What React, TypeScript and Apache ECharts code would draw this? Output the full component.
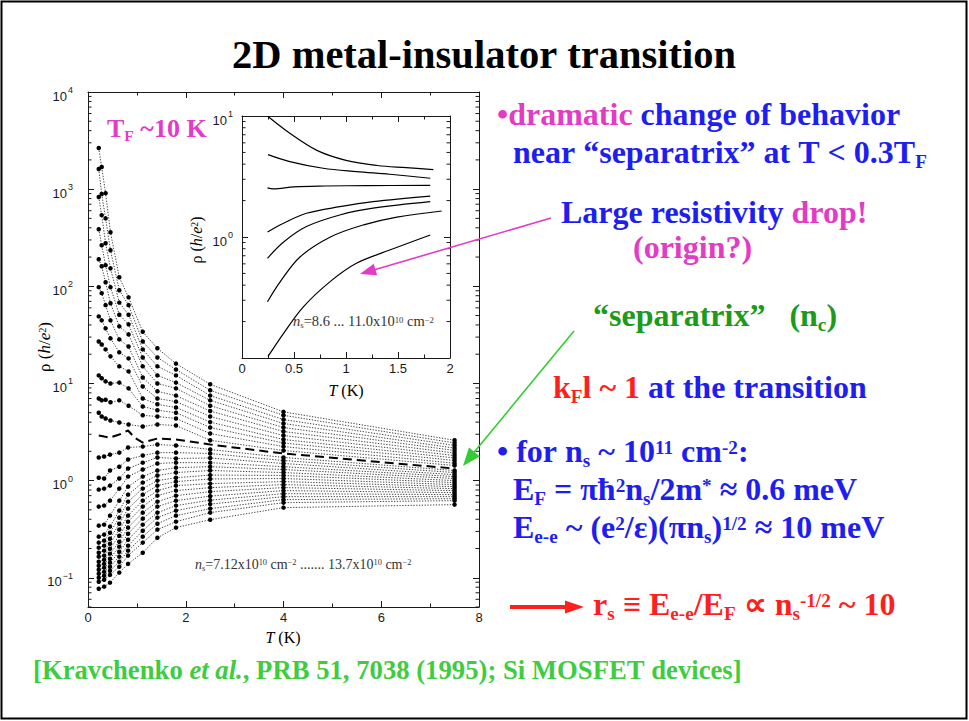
import React, { useEffect, useRef } from 'react';
import * as echarts from 'echarts';

// ---------- data: main panel, rho (h/e^2) versus T (K) ----------

// Temperatures at which the insulating-side curves were sampled
const TEMPS_INS = [0.22, 0.28, 0.36, 0.46, 0.64, 0.83, 1.12, 1.42, 1.8, 2.5, 4, 7.5];
// Insulating side (above the separatrix), top to bottom
const INS_1 = [2650, 1690, 910, 360, 124, 77, 34, 23, 16, 9.8, 5.1, 2.6];
const INS_2 = [1610, 890, 500, 235, 91, 64, 27, 18.5, 13.9, 8.5, 4.7, 2.44];
const INS_3 = [830, 540, 277, 153, 68, 51, 22.4, 15, 12.1, 7.5, 4.25, 2.3];
const INS_4 = [387, 265, 165, 98, 51, 40.6, 18.5, 12.1, 10.2, 6.7, 3.87, 2.16];
const INS_5 = [190, 161, 110, 67, 38.7, 32, 15, 10, 8.9, 5.9, 3.52, 2.04];
const INS_6 = [98, 85, 64, 44.6, 28.4, 24, 11.5, 8.3, 7.5, 5.2, 3.2, 1.92];
const INS_7 = [49, 44.6, 36.9, 29.1, 20.9, 18.1, 9.3, 7.0, 6.5, 4.57, 2.91, 1.81];
const INS_8 = [27, 25.2, 22.4, 19, 15, 13.3, 7.0, 6.1, 5.66, 4.0, 2.65, 1.71];
const INS_9 = [12.1, 11.3, 10.5, 10, 10.2, 8.9, 5.8, 5.3, 5.0, 3.52, 2.44, 1.61];
const INS_10 = [7.0, 6.7, 6.8, 6.4, 6.7, 5.9, 4.7, 4.57, 4.36, 3.05, 2.24, 1.51];
const INS_11 = [5.0, 4.57, 4.36, 4.15, 3.96, 3.78, 3.6, 3.78, 3.69, 2.6, 2.04, 1.43];

// Separatrix (dashed)
const TEMPS_SEP = [0.22, 0.33, 0.45, 0.64, 0.82, 0.95, 1.12, 1.42, 1.8, 2.5, 4, 7.5];
const SEPARATRIX = [2.91, 2.84, 2.77, 2.98, 3.28, 2.77, 2.46, 2.71, 2.65, 2.35, 1.9, 1.33];

// Metallic side (below the separatrix), top to bottom
const TEMPS_MET = [0.22, 0.33, 0.45, 0.64, 0.82, 1.12, 1.42, 1.8, 2.5, 4, 7.5];
const MET_1 = [1.73, 1.77, 1.85, 1.94, 2.19, 2.24, 2.35, 2.3, 2.09, 1.73, 1.27];
const MET_2 = [1.07, 1.05, 1.27, 1.39, 1.65, 1.81, 1.94, 1.94, 1.9, 1.61, 1.21];
const MET_3 = [0.808, 0.827, 0.888, 1.05, 1.33, 1.53, 1.73, 1.69, 1.71, 1.5, 1.15];
const MET_4 = [0.54, 0.553, 0.622, 0.827, 1.1, 1.3, 1.5, 1.53, 1.53, 1.39, 1.1];
const MET_5 = [0.344, 0.352, 0.436, 0.622, 0.867, 1.1, 1.27, 1.36, 1.39, 1.3, 1.05];
const MET_6 = [0.265, 0.278, 0.336, 0.491, 0.717, 0.954, 1.13, 1.21, 1.27, 1.21, 1.0];
const MET_7 = [0.23, 0.241, 0.291, 0.416, 0.607, 0.827, 1.0, 1.07, 1.14, 1.13, 0.954];
const MET_8 = [0.204, 0.214, 0.252, 0.36, 0.515, 0.717, 0.888, 0.977, 1.04, 1.05, 0.909];
const MET_9 = [0.181, 0.19, 0.224, 0.313, 0.436, 0.622, 0.789, 0.888, 0.931, 0.977, 0.867];
const MET_10 = [0.165, 0.169, 0.199, 0.271, 0.378, 0.54, 0.7, 0.789, 0.847, 0.909, 0.827];
const MET_11 = [0.146, 0.153, 0.177, 0.235, 0.328, 0.468, 0.607, 0.7, 0.77, 0.847, 0.789];
const MET_12 = [0.133, 0.139, 0.157, 0.209, 0.284, 0.406, 0.54, 0.622, 0.692, 0.789, 0.752];
const MET_13 = [0.121, 0.127, 0.143, 0.185, 0.246, 0.352, 0.468, 0.553, 0.629, 0.734, 0.717];
const MET_14 = [0.11, 0.115, 0.13, 0.165, 0.214, 0.305, 0.416, 0.491, 0.573, 0.684, 0.684];
const MET_15 = [0.1, 0.105, 0.118, 0.146, 0.19, 0.265, 0.36, 0.436, 0.515, 0.637, 0.652];
const MET_16 = [0.0909, 0.0954, 0.107, 0.13, 0.169, 0.23, 0.313, 0.378, 0.468, 0.593, 0.622];
const MET_17 = [0.077, 0.081, 0.089, 0.113, 0.139, 0.181, 0.258, 0.328, 0.396, 0.527, 0.566];

// ---------- data: inset, n_s = 8.6 ... 11.0 x10^10 cm^-2 ----------
const INSET_A_T = [0.25, 0.46, 0.72, 1.0, 1.3, 1.58, 1.84];
const INSET_A = [9.9, 7.2, 5.2, 4.3, 3.9, 3.74, 3.6];
const INSET_B_T = [0.25, 0.46, 0.78, 1.1, 1.42, 1.81];
const INSET_B = [4.8, 4.2, 3.7, 3.47, 3.3, 3.06];
const INSET_C_T = [0.245, 0.3, 0.5, 0.8, 1.2, 1.81];
const INSET_C = [2.55, 2.5, 2.6, 2.64, 2.66, 2.67];
const INSET_D_T = [0.245, 0.4, 0.62, 0.94, 1.26, 1.81];
const INSET_D = [1.1, 1.3, 1.57, 1.78, 1.96, 2.18];
const INSET_E_T = [0.245, 0.4, 0.62, 0.94, 1.26, 1.81];
const INSET_E = [0.667, 0.91, 1.22, 1.52, 1.73, 1.96];
const INSET_F_T = [0.245, 0.37, 0.56, 0.85, 1.17, 1.49, 1.92];
const INSET_F = [0.292, 0.43, 0.687, 1.0, 1.26, 1.46, 1.64];
const INSET_G_T = [0.25, 0.4, 0.59, 0.85, 1.1, 1.42, 1.81];
const INSET_G = [0.103, 0.16, 0.265, 0.43, 0.607, 0.78, 1.04];

// ---------- axis ticks ----------
const MAIN_DECADES = [0.01, 0.1, 1, 10, 100, 1000];
const INSET_DECADES = [0.1, 1];
const MINOR_STEPS = [2, 3, 4, 5, 6, 7, 8, 9];

// ---------- styling ----------
const SERIF = '"Liberation Serif", "Times New Roman", serif';
const SANS = '"Liberation Sans", Arial, sans-serif';
const COLORS: Record<string, string> = {
  bl: '#1e1ef0',
  pk: '#e23bc5',
  gn: '#1b9a1b',
  gc: '#40cc40',
  rd: '#ff1f1f',
  k: '#000000',
  t: '#333333',
};
const INK = '#1a1a1a';

// Rich-text styles with sub/superscripts; every token is top-aligned in the line
function richSet(size: number, weight: string = 'bold', family: string = SERIF) {
  const small = Math.round(size * 0.6 * 10) / 10;
  const supPad = Math.round(size * 0.086 * 10) / 10;
  const subPad = Math.round(size * 0.486 * 10) / 10;
  const rich: Record<string, any> = {};
  for (const key of Object.keys(COLORS)) {
    const base = { fill: COLORS[key], color: COLORS[key], fontFamily: family, fontWeight: weight, verticalAlign: 'top' };
    rich[key] = { ...base, fontSize: size, lineHeight: size, padding: [0, 0, 0, 0] };
    rich[key + 'I'] = { ...rich[key], fontStyle: 'italic' };
    rich[key + 'Sub'] = { ...base, fontSize: small, lineHeight: small, padding: [subPad, 0, 0, 0] };
    rich[key + 'Sup'] = { ...base, fontSize: small, lineHeight: small, padding: [supPad, 0, 0, 0] };
  }
  return rich;
}

// Text placed by its left/centre x and its baseline y
function label(x: number, baseline: number, text: string, size: number, weight = 'bold', align = 'left') {
  return {
    type: 'text',
    x,
    y: baseline - 0.84 * size,
    z: 100,
    silent: true,
    style: {
      text: text.replace(/ /g, '\u00a0'),
      rich: richSet(size, weight),
      align,
      verticalAlign: 'top',
    },
  };
}

function rotatedLabel(x: number, y: number, text: string, size: number) {
  return {
    type: 'text',
    x,
    y,
    rotation: Math.PI / 2,
    z: 100,
    silent: true,
    style: {
      text: text.replace(/ /g, '\u00a0'),
      rich: richSet(size, 'normal'),
      align: 'center',
      verticalAlign: 'middle',
    },
  };
}

const tickRich = {
  b: { fontSize: 13, fontFamily: SANS, color: INK, verticalAlign: 'top', lineHeight: 13, padding: [4, 0, 4, 0] },
  s: { fontSize: 9, fontFamily: SANS, color: INK, verticalAlign: 'top', lineHeight: 9, padding: [0, 0, 0, 1] },
};

function powerLabel(v: number) {
  const e = Math.log10(v);
  const r = Math.round(e);
  if (Math.abs(e - r) > 0.01) return '';
  return `{b|10}{s|${r < 0 ? '\u2212' + -r : r}}`;
}

function pairs(xs: number[], ys: number[]) {
  return xs.map((x, i) => [x, ys[i]]);
}

function minorTickSeries(xAxisIndex: number, yAxisIndex: number, decades: number[], lo: number, hi: number, xMin: number, xMax: number) {
  const values = decades.flatMap((d) => MINOR_STEPS.map((m) => m * d)).filter((v) => v >= lo && v < hi);
  return {
    type: 'custom',
    xAxisIndex,
    yAxisIndex,
    silent: true,
    z: 5,
    encode: { x: 0, y: 1 },
    data: values.map((v) => [xMin, v]),
    renderItem: (_params: any, api: any) => {
      const v = api.value(1);
      const a = api.coord([xMin, v]);
      const b = api.coord([xMax, v]);
      const st = { stroke: INK, lineWidth: 1 };
      return {
        type: 'group',
        children: [
          { type: 'line', shape: { x1: a[0], y1: a[1], x2: a[0] + 3.5, y2: a[1] }, style: st },
          { type: 'line', shape: { x1: b[0] - 3.5, y1: b[1], x2: b[0], y2: b[1] }, style: st },
        ],
      };
    },
  };
}

function xAxisDef(gridIndex: number, max: number, interval: number, position: string, showLabel: boolean) {
  return {
    gridIndex,
    type: 'value',
    min: 0,
    max,
    interval,
    position,
    axisLine: { show: true, onZero: false, lineStyle: { color: INK, width: 1 } },
    axisTick: { show: true, inside: true, length: 6, lineStyle: { color: INK } },
    minorTick: { show: true, splitNumber: 2, length: 3.5, lineStyle: { color: INK } },
    splitLine: { show: false },
    minorSplitLine: { show: false },
    axisLabel: {
      show: showLabel,
      fontSize: 13,
      fontFamily: SANS,
      color: INK,
      margin: 4,
      formatter: (v: number) => String(v),
    },
  };
}

function yAxisDef(gridIndex: number, min: number, max: number, position: string, showLabel: boolean, margin: number) {
  return {
    gridIndex,
    type: 'log',
    logBase: 10,
    min,
    max,
    position,
    axisLine: { show: true, onZero: false, lineStyle: { color: INK, width: 1 } },
    axisTick: { show: true, inside: true, length: 6, lineStyle: { color: INK } },
    splitLine: { show: false },
    axisLabel: {
      show: showLabel,
      margin,
      showMinLabel: false,
      formatter: powerLabel,
      rich: tickRich,
    },
  };
}

function buildOption() {
  const dottedStyle = { color: '#111', width: 0.8, type: [1.3, 1.5] };
  const insulating = [INS_1, INS_2, INS_3, INS_4, INS_5, INS_6, INS_7, INS_8, INS_9, INS_10, INS_11];
  const metallic = [MET_1, MET_2, MET_3, MET_4, MET_5, MET_6, MET_7, MET_8, MET_9, MET_10, MET_11, MET_12, MET_13, MET_14, MET_15, MET_16, MET_17];

  const mainCurve = (temps: number[], values: number[]) => ({
    type: 'line',
    xAxisIndex: 0,
    yAxisIndex: 0,
    silent: true,
    data: pairs(temps, values),
    symbol: 'circle',
    symbolSize: 4.5,
    itemStyle: { color: '#000' },
    lineStyle: dottedStyle,
    z: 3,
  });

  const insetCurve = (temps: number[], values: number[]) => ({
    type: 'line',
    xAxisIndex: 2,
    yAxisIndex: 2,
    silent: true,
    data: pairs(temps, values),
    symbol: 'none',
    smooth: 0.35,
    lineStyle: { color: '#000', width: 1.2 },
    z: 3,
  });

  const series: any[] = [
    ...insulating.map((v) => mainCurve(TEMPS_INS, v)),
    ...metallic.map((v) => mainCurve(TEMPS_MET, v)),
    {
      type: 'line',
      xAxisIndex: 0,
      yAxisIndex: 0,
      silent: true,
      data: pairs(TEMPS_SEP, SEPARATRIX),
      symbol: 'none',
      lineStyle: { color: '#000', width: 2, type: [9, 5] },
      z: 4,
    },
    insetCurve(INSET_A_T, INSET_A),
    insetCurve(INSET_B_T, INSET_B),
    insetCurve(INSET_C_T, INSET_C),
    insetCurve(INSET_D_T, INSET_D),
    insetCurve(INSET_E_T, INSET_E),
    insetCurve(INSET_F_T, INSET_F),
    insetCurve(INSET_G_T, INSET_G),
    minorTickSeries(0, 0, MAIN_DECADES, 0.05, 10000, 0, 8),
    minorTickSeries(2, 2, INSET_DECADES, 0.1, 10, 0, 2),
  ];

  const PINK = COLORS.pk;
  const GREEN_ARROW = '#33cc33';
  const RED = COLORS.rd;

  const graphics: any[] = [
    // slide frame
    { type: 'rect', z: 100, silent: true, shape: { x: 1.5, y: 1.5, width: 965, height: 717 }, style: { fill: 'none', stroke: '#000', lineWidth: 2 } },

    // title
    label(484, 68, '{k|2D metal-insulator transition}', 40.5, 'bold', 'center'),

    // inside the main panel
    label(107, 137, '{pk|T}{pkSub|F}{pk| ~10 K}', 26),
    label(195, 569, '{tI|n}{tSub|s}{t|=7.12x10}{tSup|10}{t| cm}{tSup|\u22122}{t| ....... 13.7x10}{tSup|10}{t| cm}{tSup|\u22122}', 14, 'normal'),
    label(293, 326, '{tI|n}{tSub|s}{t|=8.6 ... 11.0x10}{tSup|10}{t| cm}{tSup|\u22122}', 14.5, 'normal'),

    // axis titles
    label(283, 643, '{kI|T}{k| (K)}', 16, 'normal', 'center'),
    label(346, 396, '{kI|T}{k| (K)}', 16, 'normal', 'center'),
    rotatedLabel(44, 347, '{k|\u03c1 (}{kI|h}{k|/}{kI|e}{kSup|2}{k|)}', 17),
    rotatedLabel(196, 240, '{k|\u03c1 (}{kI|h}{k|/}{kI|e}{kSup|2}{k|)}', 16),

    // right-hand column
    label(497, 125, '{pk|\u2022dramatic }{bl|change of behavior}', 32),
    label(513, 163, '{bl|near \u201cseparatrix\u201d at T < 0.3T}{blSub|F}', 32),
    label(561, 223, '{bl|Large resistivity }{pk|drop!}', 32),
    label(633, 258, '{pk|(origin?)}', 32),
    label(593, 326, '{gn|\u201cseparatrix\u201d   }{gn|(n}{gnSub|c}{gn|)}', 32),
    label(553, 398, '{rd|k}{rdSub|F}{rd|l ~ 1 }{bl|at the transition}', 32),
    label(497, 462, '{bl|\u2022 for n}{blSub|s}{bl| ~ 10}{blSup|11}{bl| cm}{blSup|-2}{bl|:}', 32),
    label(513, 500, '{bl|E}{blSub|F}{bl| = \u03c0\u0127}{blSup|2}{bl|n}{blSub|s}{bl|/2m}{blSup|*}{bl| \u2248 0.6 meV}', 32),
    label(513, 538, '{bl|E}{blSub|e-e}{bl| ~ (e}{blSup|2}{bl|/\u03b5)(\u03c0n}{blSub|s}{bl|)}{blSup|1/2}{bl| \u2248 10 meV}', 32),
    label(593, 615, '{rd|r}{rdSub|s}{rd| \u2261 E}{rdSub|e-e}{rd|/E}{rdSub|F}{rd| \u221d n}{rdSub|s}{rdSup|-1/2}{rd| ~ 10}', 32),

    // citation
    label(33, 679, '{gc|[Kravchenko }{gcI|et al.}{gc|, PRB 51, 7038 (1995); Si MOSFET devices]}', 26.7),

    // arrows
    { type: 'line', z: 100, silent: true, shape: { x1: 551, y1: 218, x2: 372, y2: 270.5 }, style: { stroke: PINK, lineWidth: 1.6 } },
    { type: 'polygon', z: 100, silent: true, shape: { points: [[360, 274], [373.7, 263.7], [377.1, 275.3]] }, style: { fill: PINK } },
    { type: 'line', z: 100, silent: true, shape: { x1: 574, y1: 331, x2: 471, y2: 456 }, style: { stroke: GREEN_ARROW, lineWidth: 1.6 } },
    { type: 'polygon', z: 100, silent: true, shape: { points: [[463, 466], [479.8, 456.6], [469, 447.6]] }, style: { fill: GREEN_ARROW } },
    { type: 'line', z: 100, silent: true, shape: { x1: 510, y1: 607, x2: 568, y2: 607 }, style: { stroke: RED, lineWidth: 4 } },
    { type: 'polygon', z: 100, silent: true, shape: { points: [[584, 607], [565, 600.5], [565, 613.5]] }, style: { fill: RED } },
  ];

  return {
    animation: false,
    backgroundColor: '#ffffff',
    grid: [
      { left: 88, top: 92, width: 391, height: 515, outerBoundsMode: 'none' },
      { left: 242, top: 116, width: 208, height: 242, outerBoundsMode: 'none' },
    ],
    xAxis: [
      xAxisDef(0, 8, 2, 'bottom', true),
      xAxisDef(0, 8, 2, 'top', false),
      xAxisDef(1, 2, 0.5, 'bottom', true),
      xAxisDef(1, 2, 0.5, 'top', false),
    ],
    yAxis: [
      yAxisDef(0, 0.05, 10000, 'left', true, 15),
      yAxisDef(0, 0.05, 10000, 'right', false, 8),
      yAxisDef(1, 0.1, 10, 'left', true, 9),
      yAxisDef(1, 0.1, 10, 'right', false, 8),
    ],
    series,
    graphic: { elements: graphics },
  };
}

export default function App() {
  const ref = useRef<HTMLDivElement>(null);
  useEffect(() => {
    if (!ref.current) return;
    const chart = echarts.init(ref.current, undefined, { renderer: 'svg' });
    chart.setOption(buildOption() as any);
    return () => chart.dispose();
  }, []);
  return (
    <div
      ref={ref}
      style={{ position: 'fixed', left: 0, top: 0, width: 969, height: 721, background: '#fff' }}
    />
  );
}
